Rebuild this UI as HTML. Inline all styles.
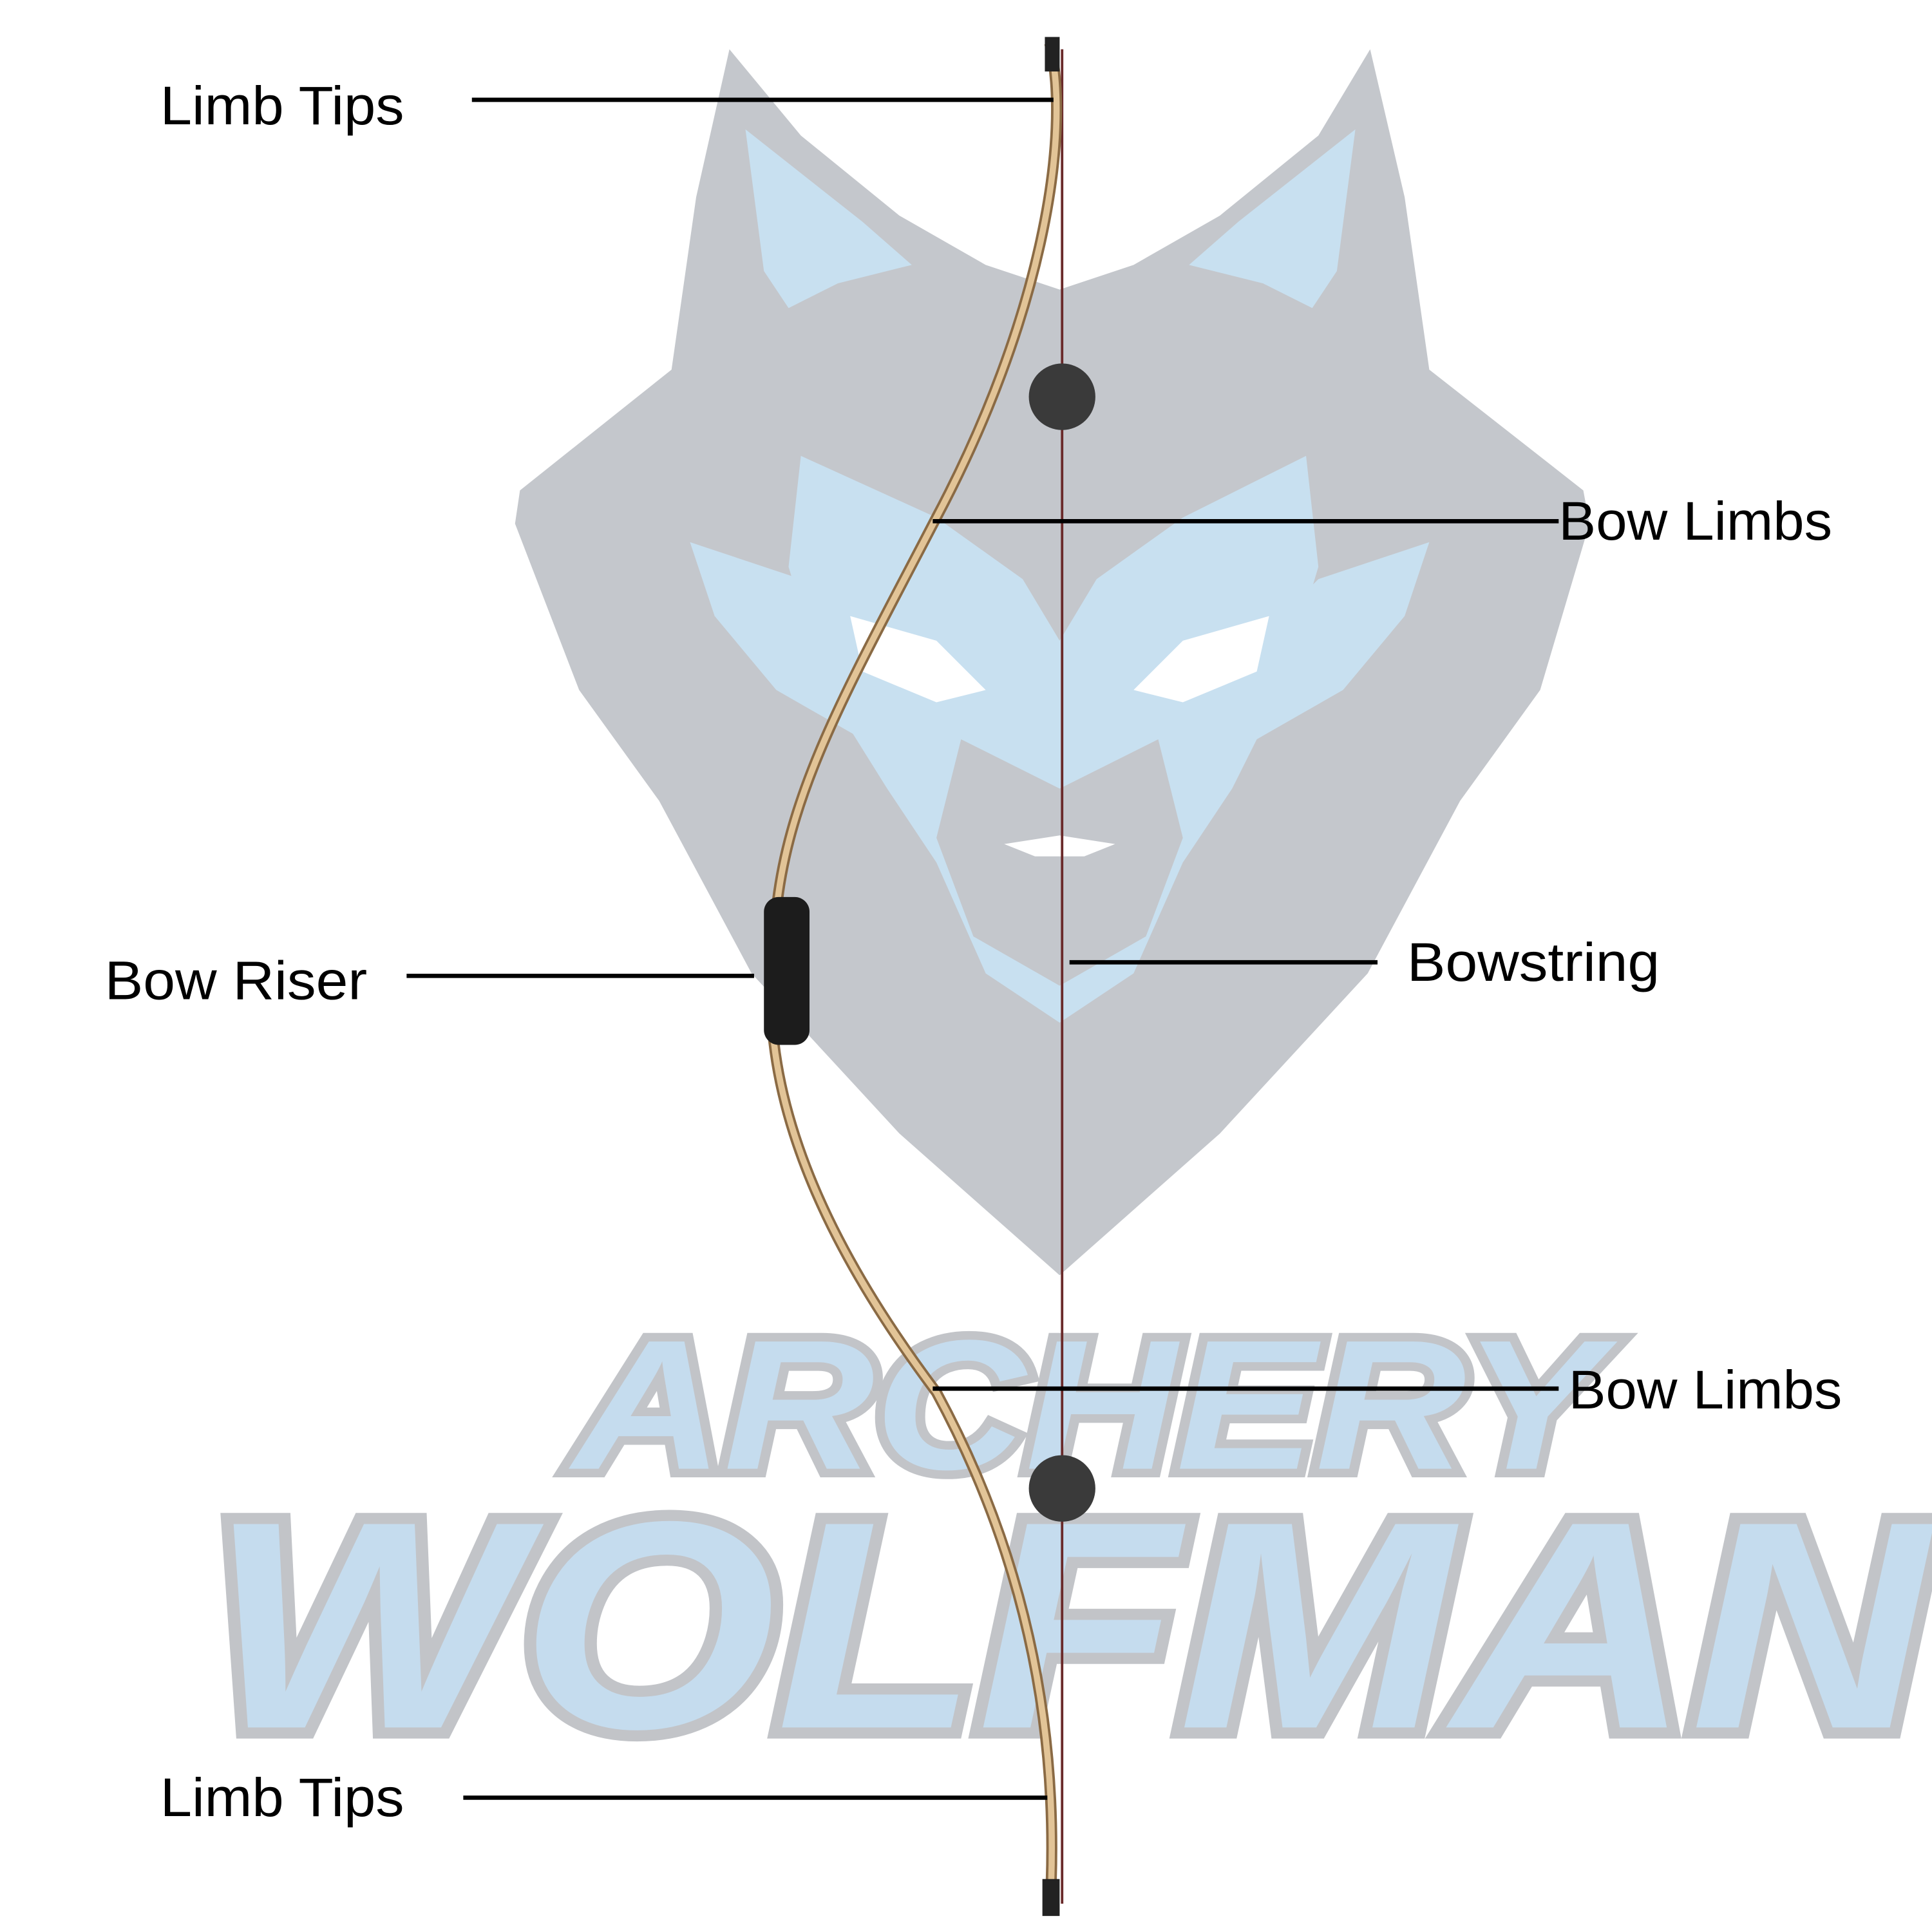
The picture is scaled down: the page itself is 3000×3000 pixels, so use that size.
<!DOCTYPE html>
<html><head><meta charset="utf-8"><style>
html,body{margin:0;padding:0;background:#fff;width:3000px;height:3000px;overflow:hidden}
svg{display:block}
</style></head><body>
<svg width="3000" height="3000" viewBox="0 0 1568 1568" xmlns="http://www.w3.org/2000/svg">
<rect width="1568" height="1568" fill="#fff"/>
<!-- wolf head -->
<path d="M592,40 L650,110 L730,175 L800,215 L860,235 L920,215 L990,175 L1070,110 L1112,40 L1140,160 L1160,300 L1285,398 L1290,425 L1250,560 L1185,650 L1110,790 L990,920 L860,1035 L730,920 L610,790 L535,650 L470,560 L418,425 L422,398 L545,300 L565,160 Z" fill="#c4c7cc"/>
<!-- inner ears -->
<path d="M605,105 L700,180 L740,215 L680,230 L640,250 L620,220 Z" fill="#c8e0f0"/>
<path d="M1100,105 L1005,180 L965,215 L1025,230 L1065,250 L1085,220 Z" fill="#c8e0f0"/>
<!-- face blue -->
<path d="M650,370 L760,420 L830,470 L860,520 L890,470 L960,420 L1060,370 L1070,460 L1040,560 L1000,640 L960,700 L920,790 L860,830 L800,790 L760,700 L720,640 L670,560 L640,460 Z" fill="#c8e0f0"/>
<path d="M560,440 L650,470 L700,520 L740,570 L700,600 L630,560 L580,500 Z" fill="#c8e0f0"/>
<path d="M1160,440 L1070,470 L1020,520 L980,570 L1020,600 L1090,560 L1140,500 Z" fill="#c8e0f0"/>
<!-- eyes -->
<path d="M690,500 L760,520 L800,560 L760,570 L700,545 Z" fill="#fff"/>
<path d="M1030,500 L960,520 L920,560 L960,570 L1020,545 Z" fill="#fff"/>
<!-- muzzle -->
<path d="M780,600 L860,640 L940,600 L960,680 L930,760 L860,800 L790,760 L760,680 Z" fill="#c4c7cc"/>
<path d="M815,685 L860,678 L905,685 L880,695 L840,695 Z" fill="#fff"/>
<!-- text logos -->
<text x="465" y="1192" font-family="Liberation Sans, sans-serif" font-weight="bold" font-style="italic" font-size="150" textLength="835" lengthAdjust="spacingAndGlyphs" fill="#c5dcee" stroke="#c2c4c8" stroke-width="14" paint-order="stroke">ARCHERY</text>
<text x="170" y="1402" font-family="Liberation Sans, sans-serif" font-weight="bold" font-style="italic" font-size="240" textLength="1395" lengthAdjust="spacingAndGlyphs" fill="#c5dcee" stroke="#c2c4c8" stroke-width="18" paint-order="stroke">WOLFMAN</text>
<!-- bowstring -->
<line x1="862" y1="40" x2="862" y2="1545" stroke="#6a2a2a" stroke-width="2"/>
<!-- bow limbs -->
<path d="M852,35 C870,110 845,260 760,420 C690,555 640,640 630,740 L628,845 C640,950 700,1050 760,1130 C825,1250 862,1390 852,1552" fill="none" stroke="#8a6a44" stroke-width="9"/>
<path d="M852,35 C870,110 845,260 760,420 C690,555 640,640 630,740 L628,845 C640,950 700,1050 760,1130 C825,1250 862,1390 852,1552" fill="none" stroke="#e2c497" stroke-width="5"/>
<rect x="620" y="728" width="37" height="120" rx="12" fill="#1c1c1c"/>
<rect x="848" y="30" width="12" height="28" fill="#222"/>
<rect x="846" y="1525" width="14" height="30" fill="#222"/>
<circle cx="862" cy="322" r="27" fill="#3a3a3a"/>
<circle cx="862" cy="1208" r="27" fill="#3a3a3a"/>
<!-- labels -->
<g font-family="Liberation Sans, sans-serif" font-size="44" fill="#000">
<text x="130" y="101" textLength="198" lengthAdjust="spacingAndGlyphs">Limb Tips</text>
<text x="1265" y="438" textLength="222" lengthAdjust="spacingAndGlyphs">Bow Limbs</text>
<text x="85" y="811" textLength="213" lengthAdjust="spacingAndGlyphs">Bow Riser</text>
<text x="1142" y="796" textLength="205" lengthAdjust="spacingAndGlyphs">Bowstring</text>
<text x="1273" y="1143" textLength="222" lengthAdjust="spacingAndGlyphs">Bow Limbs</text>
<text x="130" y="1474" textLength="198" lengthAdjust="spacingAndGlyphs">Limb Tips</text>
</g>
<g stroke="#000" stroke-width="3.5">
<line x1="383" y1="81" x2="855" y2="81"/>
<line x1="757" y1="423" x2="1265" y2="423"/>
<line x1="330" y1="792" x2="612" y2="792"/>
<line x1="868" y1="781" x2="1118" y2="781"/>
<line x1="757" y1="1127" x2="1265" y2="1127"/>
<line x1="376" y1="1459" x2="850" y2="1459"/>
</g>
</svg>
</body></html>
